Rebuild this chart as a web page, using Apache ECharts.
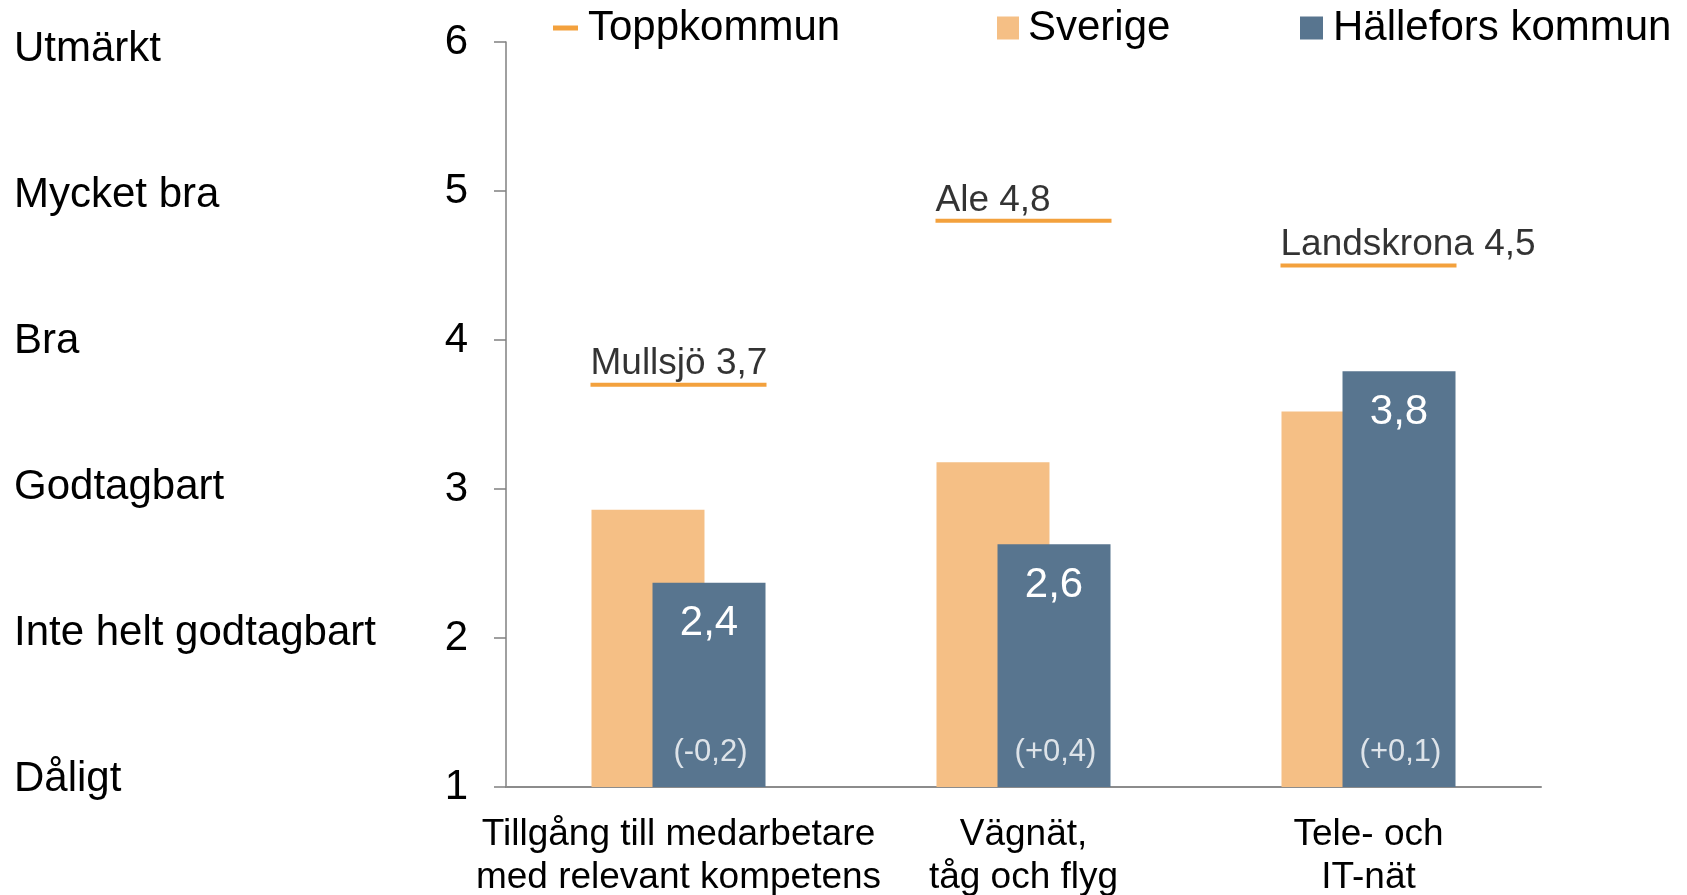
<!DOCTYPE html>
<html>
  <head>
    <meta charset="utf-8" />
    <title>Hällefors kommun</title>
    <script src="https://cdn.jsdelivr.net/npm/echarts@6.0.0/dist/echarts.min.js"></script>
    <style>
      html,
      body {
        margin: 0;
        padding: 0;
        background: #ffffff;
      }
      #main {
        width: 1687px;
        height: 895px;
      }
    </style>
  </head>

  <body>
    <div id="main"></div>

    <script type="text/javascript">
      // data
      var categories = [
        "Tillgång till medarbetare\nmed relevant kompetens",
        "Vägnät,\ntåg och flyg",
        "Tele- och\nIT-nät",
      ];
      var sverige = [2.86, 3.18, 3.52];
      var hallefors = [2.37, 2.63, 3.79];
      var halleforsDiff = ["(-0,2)", "(+0,4)", "(+0,1)"];
      var toppNames = ["Mullsjö", "Ale", "Landskrona"];
      var toppValues = [3.7, 4.8, 4.5];
      var scaleLabels = [
        "Dåligt",
        "Inte helt godtagbart",
        "Godtagbart",
        "Bra",
        "Mycket bra",
        "Utmärkt",
      ];
      var yMin = 1;
      var yMax = 6;

      var FONT = "Liberation Sans, Arial, sans-serif";
      var ORANGE = "#F08A0C";

      function fmt(v) {
        return v.toFixed(1).replace(".", ",");
      }

      var chart = echarts.init(document.getElementById("main"));

      var option = {
        animation: false,
        backgroundColor: "#ffffff",
        textStyle: { fontFamily: FONT },
        grid: [
          { left: 506, right: 146, top: 42, bottom: 108, outerBoundsMode: "none" },
          // the verbal scale sits on its own, slightly tighter, grid
          { left: 506, right: 146, top: 49, bottom: 116, outerBoundsMode: "none" },
        ],
        legend: [
          {
            data: [{ name: "Toppkommun", icon: "rect" }],
            left: 553,
            top: 7,
            padding: 0,
            itemWidth: 25,
            itemHeight: 5,
            selectedMode: false,
            textStyle: { fontSize: 42, color: "#000", padding: [0, 0, 0, 5] },
          },
          {
            data: [{ name: "Sverige", icon: "rect" }],
            left: 997,
            top: 7,
            padding: 0,
            itemWidth: 22,
            itemHeight: 23,
            selectedMode: false,
            textStyle: { fontSize: 42, color: "#000", padding: [0, 0, 0, 4] },
          },
          {
            data: [{ name: "Hällefors kommun", icon: "rect" }],
            left: 1300,
            top: 7,
            padding: 0,
            itemWidth: 23,
            itemHeight: 23,
            selectedMode: false,
            textStyle: { fontSize: 42, color: "#000", padding: [0, 0, 0, 5] },
          },
        ],
        xAxis: [
          {
            type: "category",
            data: categories,
            axisLine: { lineStyle: { color: "#8c8c8c", width: 2 } },
            axisTick: { show: false },
            axisLabel: {
              interval: 0,
              color: "#000",
              fontSize: 37,
              lineHeight: 43,
              margin: 26,
            },
          },
          { gridIndex: 1, type: "category", data: categories, show: false },
        ],
        yAxis: [
          {
            type: "value",
            min: yMin,
            max: yMax,
            interval: 1,
            axisLine: { show: true, lineStyle: { color: "#808080", width: 1.5 } },
            axisTick: { show: true, length: 12, lineStyle: { color: "#808080", width: 1.5 } },
            splitLine: { show: false },
            axisLabel: { color: "#000", fontSize: 42, margin: 38 },
          },
          {
            gridIndex: 1,
            type: "value",
            position: "left",
            min: yMin,
            max: yMax,
            interval: 1,
            axisLine: { show: false },
            axisTick: { show: false },
            splitLine: { show: false },
            axisLabel: {
              color: "#000",
              fontSize: 42,
              align: "left",
              margin: 492,
              formatter: function (v) {
                return scaleLabels[v - yMin];
              },
            },
          },
        ],
        series: [
          {
            name: "Sverige",
            type: "bar",
            data: sverige,
            barWidth: 113,
            barGap: "-46%",
            itemStyle: { color: "#F5BF85" },
          },
          {
            name: "Hällefors kommun",
            type: "bar",
            data: hallefors,
            barWidth: 113,
            itemStyle: { color: "#58758F" },
            label: {
              show: true,
              position: "insideTop",
              distance: 20,
              color: "#ffffff",
              fontSize: 42,
              formatter: function (p) {
                return fmt(p.value);
              },
            },
          },
          {
            name: "Toppkommun",
            type: "scatter",
            symbol: "rect",
            symbolSize: [176, 4],
            itemStyle: { color: ORANGE },
            z: 4,
            data: toppValues.map(function (v, i) {
              return { name: toppNames[i], value: v };
            }),
            label: {
              show: true,
              position: "top",
              distance: 0,
              align: "left",
              offset: [-88, 0],
              color: "#000000",
              fontSize: 37,
              formatter: function (p) {
                return p.name + " " + fmt(p.value);
              },
            },
          },
          {
            // change labels at the foot of the Hällefors bars
            name: "diff",
            type: "scatter",
            symbolSize: 0,
            silent: true,
            z: 5,
            data: halleforsDiff.map(function () {
              return yMin;
            }),
            label: {
              show: true,
              position: "inside",
              offset: [32, -35],
              color: "#ffffff",
              fontSize: 31,
              formatter: function (p) {
                return halleforsDiff[p.dataIndex];
              },
            },
          },
        ],
      };

      chart.setOption(option);
    </script>
  </body>
</html>
